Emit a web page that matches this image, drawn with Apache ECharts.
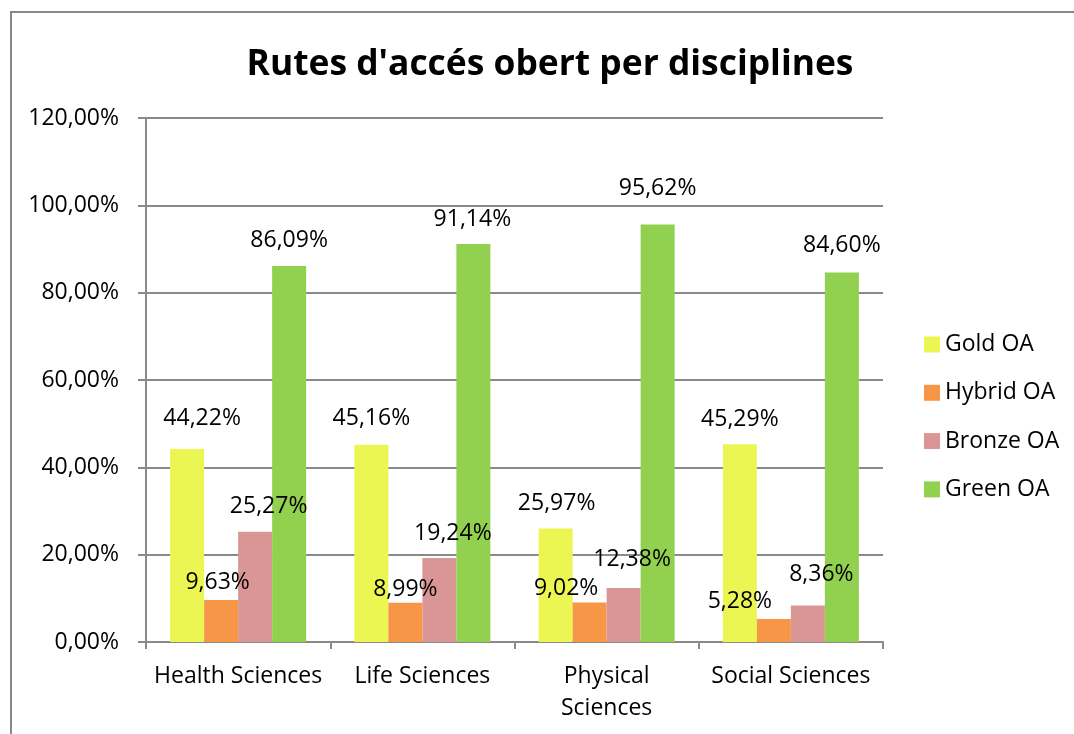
<!DOCTYPE html>
<html>
<head>
<meta charset="utf-8">
<script src="https://cdn.jsdelivr.net/npm/echarts@6/dist/echarts.min.js"></script>
<style>
html,body{margin:0;padding:0;background:#fff;}
#c{width:1074px;height:734px;}
</style>
</head>
<body>
<div id="c"></div>
<script>
const titleText = "Rutes d'accés obert per disciplines";
const categories = ['Health Sciences', 'Life Sciences', 'Physical\nSciences', 'Social Sciences'];
const seriesNames = ['Gold OA', 'Hybrid OA', 'Bronze OA', 'Green OA'];
const goldOA = [44.22, 45.16, 25.97, 45.29];
const hybridOA = [9.63, 8.99, 9.02, 5.28];
const bronzeOA = [25.27, 19.24, 12.38, 8.36];
const greenOA = [86.09, 91.14, 95.62, 84.60];
const yTicks = [0, 20, 40, 60, 80, 100, 120];

// label nudges (manual placement in the original), [dx, dy] from bar top
const labelNudge = [
  [[15,-30],[0,-26],[1,-25],[0,-25]],
  [[-3.5,-17],[0,-13],[-23.5,-14],[-34,-17]],
  [[13.5,-25],[13.5,-25],[8.5,-28],[13.5,-31]],
  [[0,-26],[-1,-25],[0,-36],[0,-27]]
];
const colors = ['#EBF652', '#F79646', '#D99694', '#92D050'];
const FONT = '"Open Sans", sans-serif';
const fmt = v => v.toFixed(2).replace('.', ',') + '%';

const allValues = [goldOA, hybridOA, bronzeOA, greenOA];
const series = allValues.map((vals, si) => ({
  name: seriesNames[si],
  type: 'bar',
  barWidth: 34,
  barGap: '0%',
  itemStyle: { color: colors[si] },
  data: vals.map((v, i) => ({
    value: v,
    label: { offset: labelNudge[si][i] }
  })),
  label: {
    show: true,
    position: 'top',
    distance: 0,
    verticalAlign: 'middle',
    color: '#000',
    fontFamily: FONT,
    fontSize: 23,
    formatter: p => fmt(p.value)
  }
}));

const chart = echarts.init(document.getElementById('c'), null, { renderer: 'canvas' });
chart.setOption({
  animation: false,
  backgroundColor: '#fff',
  color: colors,
  graphic: [{
    type: 'rect',
    shape: { x: 11, y: 12, width: 1200, height: 1000 },
    style: { fill: 'none', stroke: '#888888', lineWidth: 2 },
    silent: true,
    z: -1
  }],
  title: {
    text: titleText,
    left: 545,
    top: 42,
    textAlign: 'center',
    textStyle: { fontFamily: FONT, fontWeight: 'bold', fontSize: 35.4, color: '#000' }
  },
  legend: {
    orient: 'vertical',
    left: 924,
    top: 333,
    padding: 0,
    itemWidth: 16,
    itemHeight: 16,
    itemGap: 25.3,
    icon: 'rect',
    data: seriesNames,
    textStyle: { fontFamily: FONT, fontSize: 23, color: '#000' }
  },
  grid: { left: 146, right: 191, top: 118, bottom: 92, containLabel: false },
  xAxis: {
    type: 'category',
    data: categories,
    axisLine: { lineStyle: { color: '#8a8a8a', width: 2 } },
    axisTick: { show: true, length: 7, alignWithLabel: false, lineStyle: { color: '#8a8a8a', width: 2 } },
    axisLabel: { margin: 18, fontFamily: FONT, fontSize: 23, color: '#000', lineHeight: 32, interval: 0 }
  },
  yAxis: {
    type: 'value',
    min: yTicks[0],
    max: yTicks[yTicks.length - 1],
    interval: 20,
    axisLine: { show: true, lineStyle: { color: '#8a8a8a', width: 2 } },
    axisTick: { show: true, length: 8, lineStyle: { color: '#8a8a8a', width: 2 } },
    splitLine: { show: true, lineStyle: { color: '#8a8a8a', width: 2 } },
    axisLabel: { margin: 27, fontFamily: FONT, fontSize: 23, color: '#000', formatter: v => fmt(v) }
  },
  series: series
});
</script>
</body>
</html>
